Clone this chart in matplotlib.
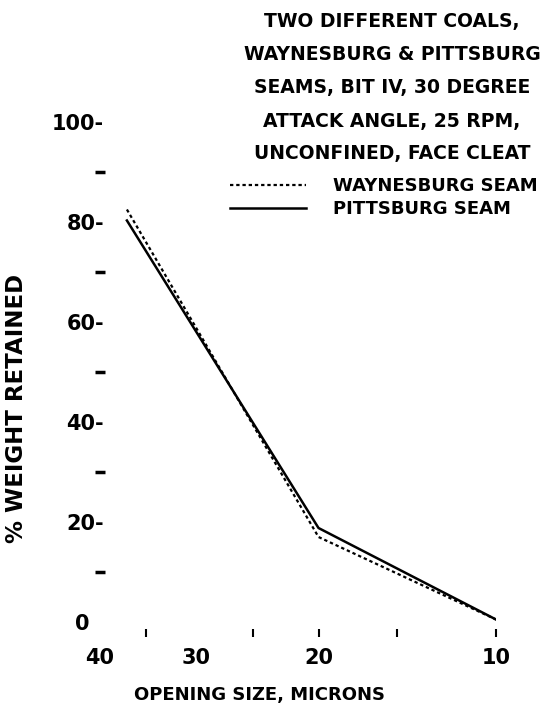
import matplotlib
matplotlib.use("Agg")
import matplotlib.pyplot as plt
import numpy as np

# opening size (microns) and % weight retained
size = [37, 20, 10]
waynesburg = [82.5, 17, 0.5]
pittsburg = [80.3, 18.8, 0.5]

x_labels = [40, 30, 20, 10]
x_minor = [35, 25, 20, 15, 10]
y_major = [0, 20, 40, 60, 80, 100]
y_minor = [10, 30, 50, 70, 90]

title_lines = ["TWO DIFFERENT COALS,",
               "WAYNESBURG & PITTSBURG",
               "SEAMS, BIT IV, 30 DEGREE",
               "ATTACK ANGLE, 25 RPM,",
               "UNCONFINED, FACE CLEAT"]

plt.rcParams['font.family'] = ['DejaVu Sans']
plt.rcParams['font.weight'] = 'bold'

W, H = 558, 715
fig = plt.figure(figsize=(W / 100, H / 100), dpi=100)
ax = fig.add_axes([100 / W, 1 - 622 / H, 396 / W, 500 / H])


def fwd(x):
    return np.power(np.clip(x, 1e-6, None), 0.3)


def inv(y):
    return np.power(np.clip(y, 1e-6, None), 1 / 0.3)


ax.set_xscale('function', functions=(fwd, inv))
ax.set_xlim(40, 10)
ax.set_ylim(0, 100)

ax.plot(size, waynesburg, color='black', lw=1.6, linestyle=(0, (1.5, 1.3)))
ax.plot(size, pittsburg, color='black', lw=1.8)

for s in ax.spines.values():
    s.set_visible(False)
ax.spines['bottom'].set_position(('outward', 5))

ax.xaxis.remove_overlapping_locs = False
ax.set_xticks(x_labels)
ax.set_xticklabels([str(v) for v in x_labels])
ax.set_xticks(x_minor, minor=True)
ax.xaxis.set_minor_formatter(plt.NullFormatter())
ax.tick_params(axis='x', which='major', length=0, pad=14, labelsize=15)
ax.tick_params(axis='x', which='minor', length=6, width=1.5, direction='out')

ax.set_yticks(y_major)
ax.set_yticklabels([f"{v}-" if v else "0  " for v in y_major])
ax.set_yticks(y_minor, minor=True)
ax.tick_params(axis='y', which='major', length=0, pad=-3, labelsize=15)
ax.tick_params(axis='y', which='minor', length=7, width=2.5, direction='inout')

ax.set_ylabel("% WEIGHT RETAINED", fontsize=16.5, fontweight='bold')
ax.yaxis.set_label_coords(-72 / 396, (622 - 408) / 500)
ax.set_xlabel("OPENING SIZE, MICRONS", fontsize=13, fontweight='bold')
ax.xaxis.set_label_coords((260 - 100) / 396, -(686 - 622) / 500)

for i, line in enumerate(title_lines):
    fig.text(392 / W, 1 - (22 + 33 * i) / H, line, ha='center', va='center',
             fontsize=13.5, fontweight='bold')

ax.legend(["WAYNESBURG SEAM", "PITTSBURG SEAM"], loc='upper left',
          bbox_to_anchor=(230 / W, 1 - 177 / H), bbox_transform=fig.transFigure,
          frameon=False, fontsize=13, handlelength=4.2, labelspacing=0.3,
          handletextpad=1.5, borderaxespad=0, borderpad=0)

fig.savefig("out.png", dpi=100)
